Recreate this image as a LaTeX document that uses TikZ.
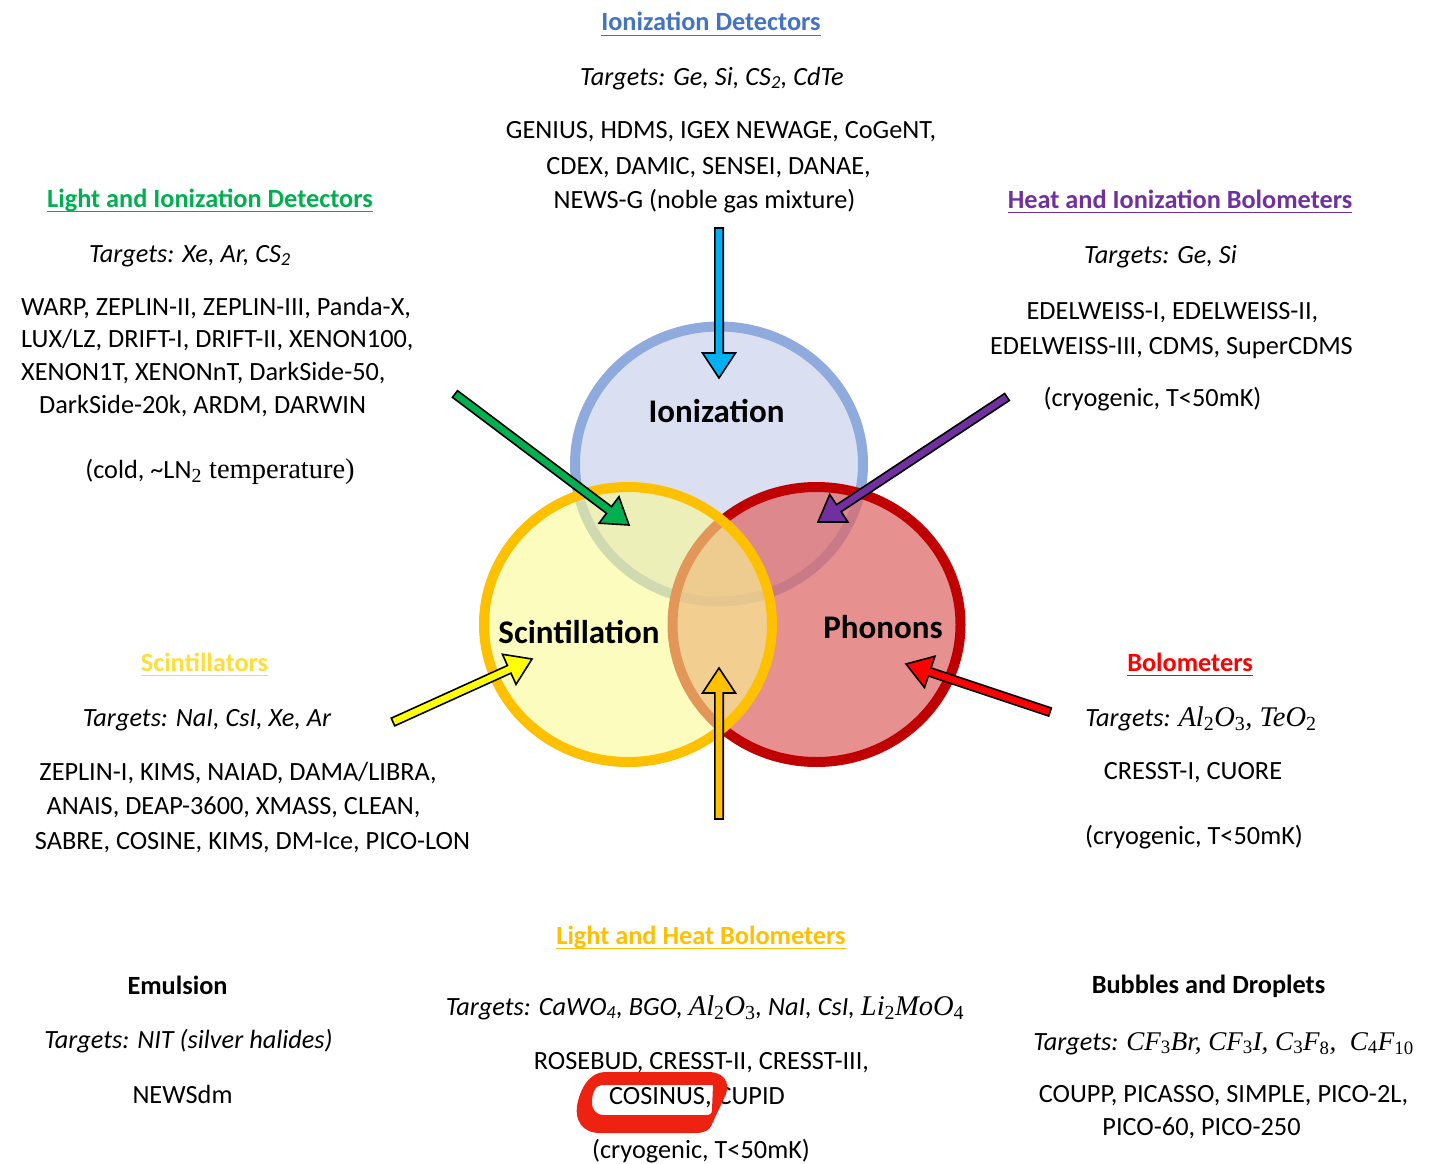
\documentclass[tikz,border=0pt]{standalone}
\usepackage{fontspec}
\setmainfont{Carlito}
\newfontfamily\cmbfam{Liberation Serif}
\usetikzlibrary{calc}
\newcommand\mth[1]{{\cmbfam\fontsize{28.5}{32}\selectfont\itshape #1}}
\newcommand\mths[1]{{\cmbfam\fontsize{27}{32}\selectfont\itshape #1}}
\newcommand\sbs[1]{\textsubscript{\upshape #1}}
\definecolor{ionfill}{RGB}{218,224,242}
\definecolor{ionline}{RGB}{143,170,220}
\definecolor{scifill}{RGB}{250,250,147}
\definecolor{sciline}{RGB}{255,192,0}
\definecolor{phofill}{RGB}{223,107,107}
\definecolor{pholine}{RGB}{192,0,0}
\definecolor{cblue}{RGB}{0,176,240}
\definecolor{cgreen}{RGB}{0,176,80}
\definecolor{cpurple}{RGB}{112,48,160}
\definecolor{cyellow}{RGB}{255,255,0}
\definecolor{cred}{RGB}{255,0,0}
\definecolor{corange}{RGB}{255,192,0}
\definecolor{tblue}{RGB}{68,114,196}
\definecolor{tgold}{RGB}{255,222,60}
\definecolor{hilite}{RGB}{238,34,17}
\newcommand\blkarrow[3]{%
  \coordinate (#2-hb) at ($(#3)!25pt!(#2)$);
  \filldraw[fill=#1, draw=black, line width=1.6pt, line join=miter]
    ($(#2)!4.2pt!90:(#3)$) -- ($(#2-hb)!4.2pt!90:(#3)$) -- ($(#2-hb)!16.5pt!90:(#3)$) -- (#3)
    -- ($(#2-hb)!16.5pt!-90:(#3)$) -- ($(#2-hb)!4.2pt!-90:(#3)$) -- ($(#2)!4.2pt!-90:(#3)$) -- cycle;}
\tikzset{
  txt/.style={inner sep=0pt, anchor=base, font=\fontsize{26.3}{32}\selectfont},
  txtw/.style={txt, anchor=base west},
  tgt/.style={txt, font=\fontsize{26.3}{32}\selectfont\itshape},
  ttl/.style={txt, font=\fontsize{26.3}{32}\selectfont\bfseries},
  clab/.style={txt, font=\fontsize{33}{40}\selectfont\bfseries},
  uline/.style={line width=1.6pt},
}
\begin{document}
\begin{tikzpicture}[x=1pt, y=-1pt]
\fill[white] (0,0) rectangle (1433,1164);
\useasboundingbox (0,0) rectangle (1433,1164);

% circles
\draw[line width=10pt, ionline, fill=ionfill] (719,464) ellipse [x radius=144, y radius=137.5];
\draw[line width=10pt, pholine, fill=phofill, fill opacity=0.75] (816.5,624.5) ellipse [x radius=144, y radius=137.5];
\draw[line width=10pt, sciline, fill=scifill, fill opacity=0.6] (628,624.5) ellipse [x radius=144, y radius=137.5];

\node[clab] (c1) at (716.5,422) {Ionization};
\node[clab] (c2) at (579,643) {Scintillation};
\node[clab] (c3) at (883,638) {Phonons};

% arrows
\coordinate (bA) at (719,228);  \coordinate (bT) at (719,378);
\coordinate (gA) at (455,394);  \coordinate (gT) at (629,525);
\coordinate (pA) at (1007,397); \coordinate (pT) at (818,522);
\coordinate (yA) at (393,722);  \coordinate (yT) at (532,659);
\coordinate (rA) at (1050,712); \coordinate (rT) at (906,664);
\coordinate (oA) at (719,819);  \coordinate (oT) at (719,668);
\blkarrow{cblue}{bA}{bT}
\blkarrow{cgreen}{gA}{gT}
\blkarrow{cpurple}{pA}{pT}
\blkarrow{cyellow}{yA}{yT}
\blkarrow{cred}{rA}{rT}
\blkarrow{corange}{oA}{oT}

% top: ionization detectors
\node[ttl, tblue] (t1) at (711,31) {Ionization Detectors};
\draw[uline, tblue] ([yshift=-4.5pt]t1.base west) -- ([yshift=-4.5pt]t1.base east);
\node[tgt] (t2) at (712,85) {Targets: Ge, Si, CS\textsubscript{2}, CdTe};
\node[txt] (t3) at (721,139) {GENIUS, HDMS, IGEX NEWAGE, CoGeNT,};
\node[txt] (t4) at (708.5,174) {CDEX, DAMIC, SENSEI, DANAE,};
\node[txt] (t5) at (704.5,208) {NEWS-G (noble gas mixture)};

% left upper: light and ionization
\node[ttl, cgreen] (l1) at (210,207) {Light and Ionization Detectors};
\draw[uline, cgreen] ([yshift=-4.5pt]l1.base west) -- ([yshift=-4.5pt]l1.base east);
\node[tgt] (l2) at (190,262) {Targets: Xe, Ar, CS\textsubscript{2}};
\node[txtw] (l3) at (21,315) {WARP, ZEPLIN-II, ZEPLIN-III, Panda-X,};
\node[txtw] (l4) at (21,347) {LUX/LZ, DRIFT-I, DRIFT-II, XENON100,};
\node[txtw] (l5) at (21,380) {XENON1T, XENONnT, DarkSide-50,};
\node[txtw] (l6) at (39,413) {DarkSide-20k, ARDM, DARWIN};
\node[txt] (l7) at (220,478) {(cold, \textasciitilde LN{\cmbfam\fontsize{28.5}{32}\selectfont\sbs{2} temperature)}};

% right upper: heat and ionization
\node[ttl, cpurple] (r1) at (1180,208) {Heat and Ionization Bolometers};
\draw[uline, cpurple] ([yshift=-4.5pt]r1.base west) -- ([yshift=-4.5pt]r1.base east);
\node[tgt] (r2) at (1160.5,263) {Targets: Ge, Si};
\node[txt] (r3) at (1172.5,319) {EDELWEISS-I, EDELWEISS-II,};
\node[txt] (r4) at (1171.5,354) {EDELWEISS-III, CDMS, SuperCDMS};
\node[txt] (r5) at (1152.5,406) {(cryogenic, T<50mK)};

% left lower: scintillators
\node[ttl, tgold] (s1) at (204.5,671) {Scintillators};
\draw[uline, tgold] ([yshift=-4.5pt]s1.base west) -- ([yshift=-4.5pt]s1.base east);
\node[tgt] (s2) at (207,726) {Targets: NaI, CsI, Xe, Ar};
\node[txt] (s3) at (238,780) {ZEPLIN-I, KIMS, NAIAD, DAMA/LIBRA,};
\node[txt] (s4) at (233.5,814) {ANAIS, DEAP-3600, XMASS, CLEAN,};
\node[txt] (s5) at (252.5,849) {SABRE, COSINE, KIMS, DM-Ice, PICO-LON};

% right lower: bolometers
\node[ttl, cred] (b1) at (1190,671) {Bolometers};
\draw[uline, cred] ([yshift=-4.5pt]b1.base west) -- ([yshift=-4.5pt]b1.base east);
\node[tgt] (b2) at (1201,726) {Targets: \mth{Al\sbs{2}O\sbs{3}, TeO\sbs{2}}};
\node[txt] (b3) at (1193,779) {CRESST-I, CUORE};
\node[txt] (b4) at (1194,844) {(cryogenic, T<50mK)};

% bottom middle: light and heat
\node[ttl, corange] (m1) at (701,944) {Light and Heat Bolometers};
\draw[uline, corange] ([yshift=-4.5pt]m1.base west) -- ([yshift=-4.5pt]m1.base east);
\node[tgt] (m2) at (705,1015) {Targets: CaWO\textsubscript{4}, BGO, \mth{Al\sbs{2}O\sbs{3}}, NaI, CsI, \mth{Li\sbs{2}MoO\sbs{4}}};
\node[txt] (m3) at (701.5,1069) {ROSEBUD, CRESST-II, CRESST-III,};
\node[txt] (m4) at (697,1104) {COSINUS, CUPID};
\node[txt] (m5) at (701,1158) {(cryogenic, T<50mK)};
\fill[hilite, even odd rule]
  (605,1072) -- (708,1072) .. controls (724,1072) and (730,1082) .. (726,1094)
  -- (712,1124) .. controls (709,1131) and (704,1133) .. (695,1133)
  -- (600,1133) .. controls (582,1133) and (575,1120) .. (577,1106)
  .. controls (580,1088) and (590,1072) .. (605,1072) -- cycle
  (602,1085) -- (713,1085) -- (712,1110) .. controls (712,1114) and (710,1115) .. (706,1115)
  -- (604,1115) .. controls (596,1115) and (592,1110) .. (592,1102)
  .. controls (592,1092) and (596,1085) .. (602,1085) -- cycle;

% emulsion
\node[ttl] (e1) at (177.5,994) {Emulsion};
\node[tgt] (e2) at (188.5,1048) {Targets: NIT (silver halides)};
\node[txt] (e3) at (182.5,1103) {NEWSdm};

% bubbles and droplets
\node[ttl] (d1) at (1208.5,993) {Bubbles and Droplets};
\node[tgt] (d2) at (1223.5,1050) {Targets: \mths{CF\sbs{3}Br, CF\sbs{3}I, C\sbs{3}F\sbs{8}, \ C\sbs{4}F\sbs{10}}};
\node[txt] (d3) at (1223.5,1102) {COUPP, PICASSO, SIMPLE, PICO-2L,};
\node[txt] (d4) at (1201.5,1135) {PICO-60, PICO-250};
\end{tikzpicture}
\end{document}
